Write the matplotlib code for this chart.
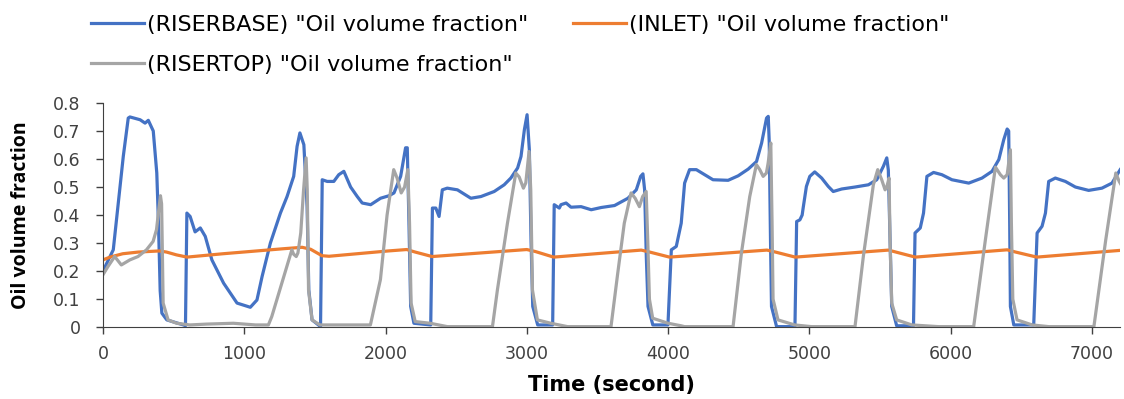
import numpy as np
import matplotlib
matplotlib.use("Agg")
import matplotlib.pyplot as plt
from matplotlib.ticker import FuncFormatter

plt.rcParams["font.family"] = ["DejaVu Sans"]

# RISERBASE oil volume fraction (blue)
base_t = [0, 73, 144, 179, 191, 263, 298, 321, 356, 381, 393, 405, 417, 452, 570, 584,
          594, 617, 652, 689, 724, 771, 854, 949, 1043, 1090, 1126, 1185, 1256, 1303, 1350, 1374,
          1394, 1422, 1445, 1457, 1480, 1540, 1552, 1587, 1634, 1669, 1705, 1753, 1800, 1835, 1895, 1965,
          2025, 2060, 2107, 2142, 2154, 2166, 2178, 2201, 2320, 2332, 2356, 2379, 2402, 2437, 2509, 2604,
          2675, 2769, 2840, 2887, 2935, 2959, 2983, 3002, 3018, 3030, 3042, 3077, 3183, 3194, 3230, 3242,
          3278, 3313, 3384, 3456, 3527, 3621, 3716, 3775, 3806, 3822, 3834, 3846, 3858, 3892, 3999, 4023,
          4058, 4093, 4117, 4152, 4200, 4259, 4318, 4425, 4496, 4567, 4626, 4662, 4697, 4709, 4716, 4725,
          4732, 4768, 4898, 4910, 4933, 4949, 4956, 4979, 5003, 5038, 5087, 5134, 5169, 5229, 5323, 5418,
          5477, 5524, 5548, 5559, 5571, 5583, 5618, 5737, 5748, 5785, 5808, 5832, 5879, 5938, 6009, 6128,
          6222, 6293, 6341, 6376, 6400, 6411, 6418, 6423, 6447, 6588, 6612, 6647, 6671, 6694, 6741, 6812,
          6883, 6977, 7071, 7142, 7200]
base_v = [0.20, 0.276, 0.61, 0.746, 0.75, 0.74, 0.728, 0.738, 0.70, 0.55, 0.37, 0.13, 0.05, 0.026, 0.008, 0.005,
          0.407, 0.395, 0.34, 0.354, 0.324, 0.24, 0.157, 0.086, 0.071, 0.097, 0.18, 0.30, 0.407, 0.466, 0.538, 0.645,
          0.693, 0.651, 0.43, 0.133, 0.026, 0.002, 0.526, 0.52, 0.52, 0.544, 0.556, 0.50, 0.466, 0.443, 0.437, 0.46,
          0.469, 0.479, 0.538, 0.64, 0.64, 0.37, 0.074, 0.014, 0.008, 0.425, 0.425, 0.395, 0.49, 0.496, 0.49, 0.46,
          0.466, 0.484, 0.508, 0.532, 0.568, 0.609, 0.705, 0.758, 0.633, 0.31, 0.074, 0.008, 0.008, 0.437, 0.425, 0.437,
          0.443, 0.428, 0.43, 0.419, 0.427, 0.434, 0.46, 0.49, 0.538, 0.547, 0.49, 0.25, 0.074, 0.008, 0.008, 0.276,
          0.288, 0.371, 0.514, 0.562, 0.562, 0.544, 0.526, 0.524, 0.54, 0.564, 0.591, 0.657, 0.746, 0.752, 0.66, 0.31,
          0.074, 0.002, 0.002, 0.377, 0.383, 0.40, 0.425, 0.502, 0.538, 0.554, 0.532, 0.502, 0.484, 0.493, 0.50, 0.508,
          0.526, 0.574, 0.604, 0.56, 0.31, 0.074, 0.005, 0.005, 0.336, 0.354, 0.407, 0.538, 0.552, 0.544, 0.526, 0.514,
          0.532, 0.556, 0.598, 0.669, 0.707, 0.70, 0.371, 0.074, 0.008, 0.008, 0.336, 0.36, 0.407, 0.52, 0.532, 0.52,
          0.50, 0.488, 0.496, 0.514, 0.562]

# INLET oil volume fraction (orange)
inlet_t = [0, 50, 140, 250, 400, 450, 520, 595, 850, 1280, 1410, 1470, 1550, 1600, 2020, 2150, 2210,
           2330, 3000, 3060, 3190, 3810, 3870, 4010, 4700, 4760, 4900, 5560, 5620, 5750, 6400, 6460,
           6610, 7200]
inlet_v = [0.24, 0.25, 0.262, 0.268, 0.272, 0.268, 0.258, 0.25, 0.262, 0.28, 0.285, 0.278, 0.255, 0.253,
           0.272, 0.277, 0.268, 0.252, 0.277, 0.27, 0.25, 0.275, 0.268, 0.25, 0.275, 0.268, 0.25, 0.275,
           0.267, 0.25, 0.276, 0.268, 0.25, 0.274]

# RISERTOP oil volume fraction (grey)
top_t = [0, 35, 83, 130, 190, 248, 308, 355, 379, 395, 407, 415, 421, 426, 461, 521,
         615, 734, 923, 1080, 1171, 1195, 1337, 1350, 1368, 1380, 1400, 1420, 1438, 1446, 1455, 1480,
         1535, 1893, 1964, 2011, 2058, 2082, 2111, 2135, 2158, 2170, 2181, 2210, 2316, 2437, 2757, 2792,
         2863, 2922, 2946, 2976, 2993, 3016, 3028, 3040, 3075, 3170, 3288, 3596, 3643, 3690, 3738, 3767,
         3797, 3820, 3845, 3856, 3868, 3891, 4000, 4092, 4116, 4460, 4519, 4578, 4625, 4649, 4673, 4696,
         4708, 4727, 4736, 4743, 4778, 4896, 5014, 5323, 5382, 5453, 5484, 5512, 5536, 5548, 5564, 5571,
         5583, 5618, 5725, 5913, 6163, 6246, 6317, 6352, 6376, 6400, 6423, 6430, 6440, 6470, 6577, 6694,
         7014, 7098, 7169, 7193, 7216]
top_v = [0.187, 0.216, 0.252, 0.222, 0.24, 0.252, 0.276, 0.306, 0.348, 0.419, 0.469, 0.44, 0.252, 0.086, 0.026, 0.014,
         0.008, 0.011, 0.014, 0.008, 0.008, 0.038, 0.276, 0.26, 0.252, 0.265, 0.336, 0.49, 0.604, 0.49, 0.133, 0.026,
         0.008, 0.008, 0.17, 0.40, 0.562, 0.532, 0.479, 0.50, 0.562, 0.37, 0.086, 0.02, 0.014, 0.002, 0.002, 0.133,
         0.371, 0.55, 0.536, 0.496, 0.515, 0.627, 0.49, 0.133, 0.026, 0.014, 0.002, 0.002, 0.19, 0.371, 0.479, 0.46,
         0.43, 0.466, 0.484, 0.31, 0.10, 0.032, 0.014, 0.005, 0.002, 0.002, 0.264, 0.466, 0.58, 0.562, 0.538, 0.55,
         0.585, 0.657, 0.371, 0.10, 0.026, 0.008, 0.002, 0.002, 0.252, 0.508, 0.562, 0.526, 0.49, 0.50, 0.532, 0.31,
         0.086, 0.026, 0.008, 0.002, 0.002, 0.312, 0.571, 0.544, 0.532, 0.544, 0.633, 0.371, 0.10, 0.026, 0.008, 0.002,
         0.002, 0.312, 0.55, 0.52, 0.50]

labels = ['(RISERBASE) "Oil volume fraction"',
          '(INLET) "Oil volume fraction"',
          '(RISERTOP) "Oil volume fraction"']
colors = ["#4472C4", "#ED7D31", "#A5A5A5"]

fig = plt.figure(figsize=(11.24, 3.99), dpi=100)
ax = fig.add_axes([0.0916, 0.18, 0.905, 0.562])

h_base, = ax.plot(base_t, base_v, color=colors[0], lw=2.3, label=labels[0])
h_inlet, = ax.plot(inlet_t, inlet_v, color=colors[1], lw=2.3, label=labels[1])
h_top, = ax.plot(top_t, top_v, color=colors[2], lw=2.3, label=labels[2])

ax.set_xlim(0, 7200)
ax.set_ylim(0, 0.8)
ax.set_xticks(np.arange(0, 7001, 1000))
ax.set_yticks(np.arange(0, 0.81, 0.1))
ax.yaxis.set_major_formatter(FuncFormatter(lambda v, p: "0" if abs(v) < 1e-9 else f"{v:.1f}"))
ax.tick_params(axis="both", labelsize=12.5, colors="#404040", length=5, width=1)
ax.tick_params(axis="x", pad=8)
ax.tick_params(axis="y", pad=11)
for s in ["top", "right"]:
    ax.spines[s].set_visible(False)
for s in ["left", "bottom"]:
    ax.spines[s].set_color("#404040")

ax.set_xlabel("Time (second)", fontsize=15, fontweight="bold")
ax.xaxis.set_label_coords(0.5, -0.215)
ax.set_ylabel("Oil volume fraction", fontsize=14, fontweight="bold",
              family=["Open Sans", "DejaVu Sans"])
ax.yaxis.set_label_coords(-0.071, 0.5)

fig.legend([h_base, h_top, h_inlet], [labels[0], labels[2], labels[1]],
           ncol=2, loc="upper left", bbox_to_anchor=(0.063, 1.0125), frameon=False,
           fontsize=16, handlelength=2.4, handletextpad=0.12, columnspacing=2.0,
           labelspacing=0.885)

fig.savefig("out.png", dpi=100, facecolor="white")
